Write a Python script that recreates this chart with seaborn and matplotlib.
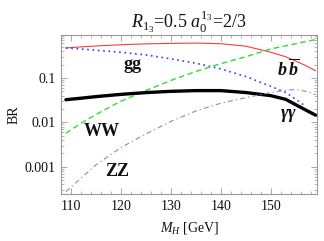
import matplotlib
matplotlib.use("Agg")
import matplotlib.pyplot as plt
import matplotlib.ticker as mticker
import pandas as pd
import seaborn as sns

# Higgs mass grid (GeV) and branching ratios
mass = [109, 112, 115, 120, 125, 130, 135, 140, 145, 150, 153, 155, 157, 159]
br_bb = [0.474, 0.50, 0.525, 0.56, 0.585, 0.60, 0.61, 0.59, 0.52, 0.38, 0.30, 0.24, 0.19, 0.145]
br_gg = [0.474, 0.45, 0.42, 0.38, 0.33, 0.27, 0.215, 0.16, 0.108, 0.065, 0.047, 0.033, 0.023, None]
br_ww = [0.0057, 0.0095, 0.015, 0.030, 0.052, 0.088, 0.14, 0.21, 0.30, 0.45, 0.53, 0.59, 0.66, 0.73]
br_aa = [0.0324, 0.035, 0.038, 0.0427, 0.0468, 0.050, 0.0519, 0.0519, 0.047, 0.040, 0.033, 0.025, 0.019, 0.0145]
br_zz = [0.000275, 0.00055, 0.0011, 0.0027, 0.0055, 0.0105, 0.018, 0.027, 0.036, 0.047, 0.053, 0.055, 0.050, 0.042]

channel_labels = ["gg", "WW", "ZZ"]

sns.set_style("ticks")
plt.rcParams["font.family"] = ["Liberation Serif", "DejaVu Serif"]
plt.rcParams["mathtext.fontset"] = "custom"
plt.rcParams["mathtext.rm"] = "Liberation Serif"
plt.rcParams["mathtext.it"] = "Liberation Serif:italic"
plt.rcParams["mathtext.bf"] = "Liberation Serif:bold"
plt.rcParams["mathtext.bfit"] = "Liberation Serif:bold:italic"

df = pd.DataFrame({"M": mass, "bb": br_bb, "gg": br_gg, "WW": br_ww,
                   "aa": br_aa, "ZZ": br_zz})

fig = plt.figure(figsize=(3.24, 2.41), dpi=100)
ax = fig.add_axes([0.188, 0.195, 0.791, 0.660])

sns.lineplot(data=df, x="M", y="bb", ax=ax, color="#ff3b3b", lw=0.8)
sns.lineplot(data=df.dropna(), x="M", y="gg", ax=ax, color="#3a3aff", lw=1.2, linestyle=(0, (1, 2.2)))
sns.lineplot(data=df, x="M", y="WW", ax=ax, color="#2fdc2f", lw=1.0, linestyle=(0, (4, 2.5)))
sns.lineplot(data=df, x="M", y="aa", ax=ax, color="black", lw=2.4)
sns.lineplot(data=df, x="M", y="ZZ", ax=ax, color="#a88cc0", lw=0.9, linestyle=(0, (4, 2.5, 1, 2.5)))

ax.set_yscale("log")
ax.set_xlim(108, 159.3)
ax.set_ylim(2.44e-4, 0.93)

ax.xaxis.set_major_locator(mticker.MultipleLocator(10))
ax.xaxis.set_minor_locator(mticker.MultipleLocator(2))
ax.yaxis.set_major_locator(mticker.FixedLocator([0.001, 0.01, 0.1]))
ax.yaxis.set_major_formatter(mticker.FixedFormatter(["0.001", "0.01", "0.1"]))
ax.yaxis.set_minor_locator(mticker.LogLocator(subs=range(2, 10)))
ax.yaxis.set_minor_formatter(mticker.NullFormatter())

ax.tick_params(which="both", direction="in", top=True, right=True, colors="#999999",
               labelcolor="#111111", labelsize=10)
ax.tick_params(which="major", length=4, width=0.6, pad=4)
ax.tick_params(which="minor", length=2, width=0.5)
for sp in ax.spines.values():
    sp.set_color("#999999")
    sp.set_linewidth(0.8)

ax.set_xlabel(r"$M_H$ [GeV]", fontsize=10, color="#111111", labelpad=5)
ax.set_ylabel("BR", fontsize=10, color="#111111", labelpad=3)
ax.set_title(r"$R_{1_3}$=0.5 $a_0^{1_3}$=2/3", fontsize=13, color="#111111", pad=5)

# channel labels
label_pos = [(122.4, 0.20), (116.2, 0.0062), (119.2, 0.00078)]
for txt, (xm, yv) in zip(channel_labels, label_pos):
    ax.text(xm, yv, txt, fontsize=13, fontweight="bold", ha="center", va="center", color="#111111")
ax.text(153.5, 0.155, r"$\mathbfit{b}\,\overline{\mathbfit{b}}$", fontsize=13,
        ha="center", va="center", color="#111111")
ax.text(153.5, 0.0145, r"$\mathbfit{\gamma\gamma}$", fontsize=13,
        ha="center", va="center", color="#111111")

fig.savefig("out.png", dpi=100)
